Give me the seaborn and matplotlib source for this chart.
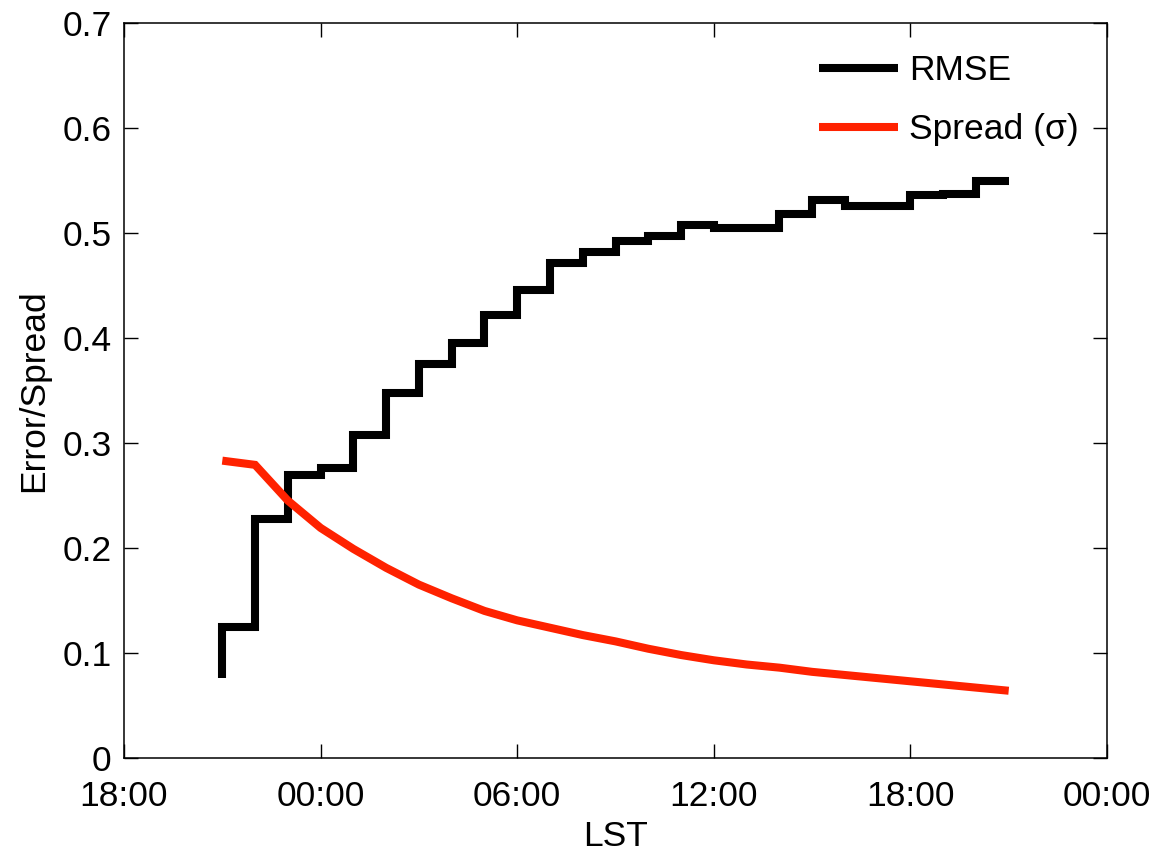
import matplotlib
matplotlib.use("Agg")
import matplotlib.pyplot as plt
import seaborn as sns
import pandas as pd

# Forecast lead times, hours after 18:00 LST of the first day
hours = [21, 22, 23, 24, 25, 26, 27, 28, 29, 30, 31, 32, 33,
         34, 35, 36, 37, 38, 39, 40, 41, 42, 43, 44, 45]

# Hourly ensemble-mean RMSE
rmse = [0.076, 0.125, 0.227, 0.269, 0.276, 0.307, 0.347, 0.375, 0.395,
        0.422, 0.445, 0.471, 0.482, 0.492, 0.497, 0.507, 0.504, 0.504,
        0.518, 0.531, 0.525, 0.525, 0.536, 0.537, 0.549]

# Ensemble spread (standard deviation)
spread = [0.283, 0.279, 0.245, 0.219, 0.199, 0.181, 0.165, 0.152, 0.140,
          0.131, 0.124, 0.117, 0.111, 0.104, 0.098, 0.093, 0.089, 0.086,
          0.082, 0.079, 0.076, 0.073, 0.070, 0.067, 0.064]

xticks = [18, 24, 30, 36, 42, 48]
xtick_labels = ["18:00", "00:00", "06:00", "12:00", "18:00", "00:00"]
yticks = [0, 0.1, 0.2, 0.3, 0.4, 0.5, 0.6, 0.7]
ytick_labels = ["0", "0.1", "0.2", "0.3", "0.4", "0.5", "0.6", "0.7"]

df = pd.DataFrame({"hour": hours, "rmse": rmse, "spread": spread})

sns.set_style("ticks")
plt.rcParams["font.family"] = ["Liberation Sans", "DejaVu Sans"]
plt.rcParams["text.color"] = "black"
plt.rcParams["axes.labelcolor"] = "black"
FS = 25.5

fig = plt.figure(figsize=(11.56, 8.58), dpi=100)
ax = fig.add_axes([124 / 1156, 100 / 858, 983 / 1156, 735.5 / 858])

line_kw = dict(linewidth=5.8, solid_capstyle="butt", solid_joinstyle="miter")
sns.lineplot(data=df, x="hour", y="rmse", ax=ax, color="black",
             drawstyle="steps-pre", label="RMSE", **line_kw)
sns.lineplot(data=df, x="hour", y="spread", ax=ax, color="#ff2200",
             label="Spread (σ)", **line_kw)

ax.set_xlim(18, 48)
ax.set_ylim(0, 0.7)
ax.set_xticks(xticks)
ax.set_xticklabels(xtick_labels)
ax.set_yticks(yticks)
ax.set_yticklabels(ytick_labels)
ax.tick_params(direction="in", length=10, width=1, top=True, right=True,
               labelsize=FS, color="black", labelcolor="black")
ax.tick_params(axis="x", pad=16)
ax.tick_params(axis="y", pad=9)
for s in ax.spines.values():
    s.set_linewidth(1.1)
    s.set_color("black")

ax.set_xlabel("LST", fontsize=FS, labelpad=5)
ax.set_ylabel("Error/Spread", fontsize=FS, labelpad=9)

leg = ax.legend(loc="upper right", frameon=False, fontsize=FS,
                handlelength=2.23, handletextpad=0.31, labelspacing=0.72,
                borderaxespad=0.0, borderpad=0.0,
                bbox_to_anchor=(1 - 28 / 983, 1 - 32 / 735.5))
for h in leg.get_lines():
    h.set_solid_capstyle("butt")

fig.savefig("out.png", dpi=100)
